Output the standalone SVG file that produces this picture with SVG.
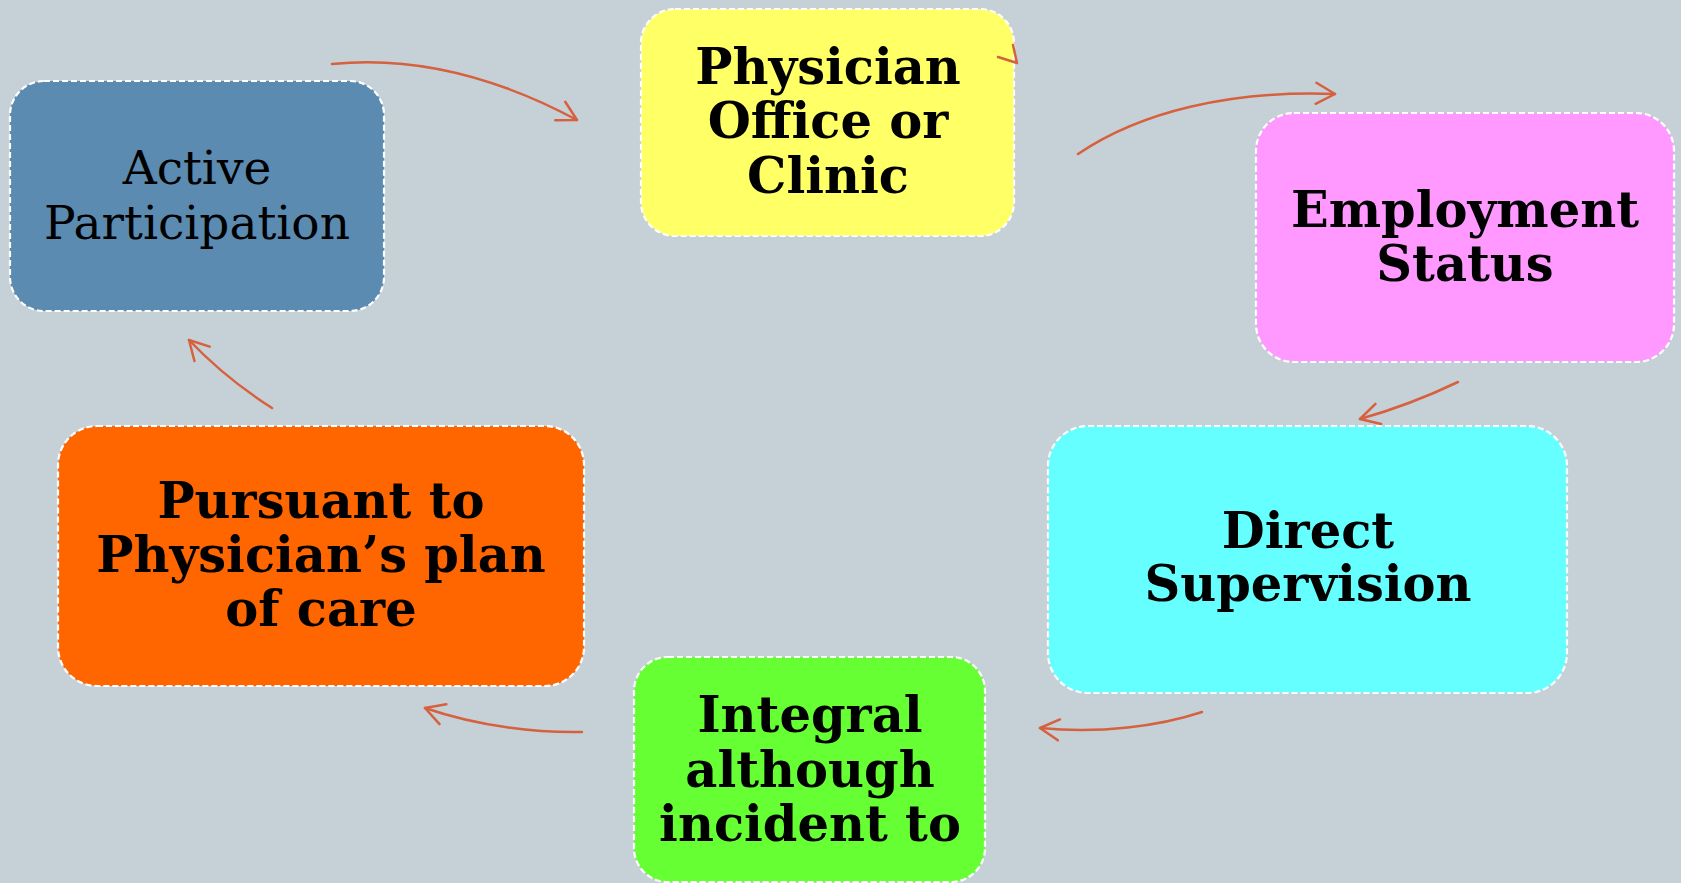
<svg xmlns="http://www.w3.org/2000/svg" width="1681" height="883" viewBox="0 0 1681 883">
<style>
.box{stroke:#ffffff;stroke-width:2.2;stroke-dasharray:6 3}
.reg{font-family:"DejaVu Serif","Liberation Serif",serif;font-size:47px;fill:#000;text-anchor:middle}
.bold{font-family:"DejaVu Serif","Liberation Serif",serif;font-size:49.5px;font-weight:bold;fill:#000;text-anchor:middle}
.con{fill:none;stroke:#d6613f;stroke-width:2.5;stroke-linecap:round;stroke-linejoin:round}
</style>
<defs>
<marker id="ah" markerUnits="userSpaceOnUse" markerWidth="26" markerHeight="26" viewBox="0 0 26 26" refX="22" refY="13" orient="auto">
<path d="M3,2.5 L22,13 L3,23.5" fill="none" stroke="#d6613f" stroke-width="2.5" stroke-linecap="round" stroke-linejoin="round"/>
</marker>
</defs>
<rect width="1681" height="883" fill="#c6d1d7"/>
<g id="node-active">
<rect class="box" x="10" y="81" width="374" height="230" rx="34" fill="#5b8bb0"/>
<text class="reg" x="197" y="184">Active</text>
<text class="reg" x="197" y="239">Participation</text>
</g>
<g id="node-physician">
<rect class="box" x="641" y="9" width="373" height="227" rx="34" fill="#ffff66"/>
<text class="bold" x="828" y="84">Physician</text>
<text class="bold" x="828" y="138">Office or</text>
<text class="bold" x="828" y="193">Clinic</text>
</g>
<g id="node-employment">
<rect class="box" x="1256" y="113" width="418" height="249" rx="38" fill="#ff99ff"/>
<text class="bold" x="1465" y="227">Employment</text>
<text class="bold" x="1465" y="281">Status</text>
</g>
<g id="node-direct">
<rect class="box" x="1048" y="426" width="519" height="267" rx="40" fill="#66ffff"/>
<text class="bold" x="1308" y="548">Direct</text>
<text class="bold" x="1308" y="601">Supervision</text>
</g>
<g id="node-integral">
<rect class="box" x="634" y="657" width="351" height="225" rx="34" fill="#66ff33"/>
<text class="bold" x="810" y="732">Integral</text>
<text class="bold" x="810" y="787">although</text>
<text class="bold" x="810" y="841">incident to</text>
</g>
<g id="node-pursuant">
<rect class="box" x="58" y="426" width="526" height="260" rx="39" fill="#ff6600"/>
<text class="bold" x="321" y="518">Pursuant to</text>
<text class="bold" x="321" y="572">Physician’s plan</text>
<text class="bold" x="321" y="626">of care</text>
</g>
<g id="connectors">
<path class="con" d="M332,64 Q450,52 577,120" marker-end="url(#ah)"/>
<path class="con" d="M998,57 L1017,63 L1013,45"/>
<path class="con" d="M1078,154 C1140,112 1230,90 1335,94" marker-end="url(#ah)"/>
<path class="con" d="M1458,382 Q1410,405 1360,419" marker-end="url(#ah)"/>
<path class="con" d="M1202,712 C1160,726 1100,734 1040,728" marker-end="url(#ah)"/>
<path class="con" d="M582,732 C540,733 480,727 425,708" marker-end="url(#ah)"/>
<path class="con" d="M272,408 Q225,378 189,340" marker-end="url(#ah)"/>
</g>
</svg>
